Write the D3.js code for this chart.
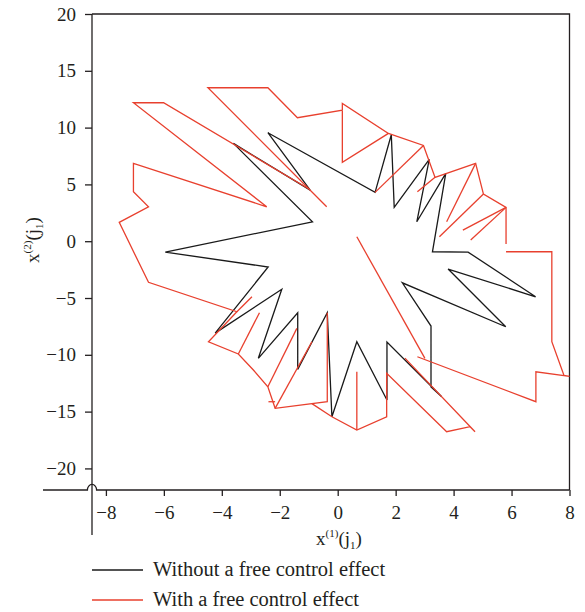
<!DOCTYPE html>
<html><head><meta charset="utf-8">
<script src="https://cdn.jsdelivr.net/npm/d3@7/dist/d3.min.js"></script>
<style>
body{margin:0;background:#fff}
text{font-family:"Liberation Serif","Times New Roman",serif;fill:#231f20}
</style>
</head><body>
<svg id="chart" width="585" height="612"></svg>
<script>
// ---------- data ----------
const xTicks = [-8, -6, -4, -2, 0, 2, 4, 6, 8];
const yTicks = [-20, -15, -10, -5, 0, 5, 10, 15, 20];
const seriesNames = ["Without a free control effect", "With a free control effect"];
const seriesColors = ["#1a1a1a", "#e8402e"];

// trajectory without a free control effect (closed)
const blackPath = [
  [-4.23,-8.09],[-1.93,-4.23],[-2.74,-10.31],[-1.38,-6.30],[-1.38,-11.28],
  [-0.36,-6.30],[-0.20,-15.45],[0.66,-8.85],[1.70,-13.98],[1.70,-8.88],
  [3.59,-13.69],[3.22,-12.84],[3.22,-7.47],[2.23,-3.66],[5.80,-7.53],
  [3.81,-2.45],[6.83,-4.89],[4.50,-0.96],[3.27,-0.93],[3.73,5.97],
  [2.73,1.71],[3.16,7.20],[1.95,2.98],[1.85,9.37],[1.29,4.30],
  [-2.41,9.55],[-0.95,4.50],[-3.60,8.61],[-0.87,1.71],[-5.95,-0.96],
  [-2.40,-2.27],[-4.23,-8.09]
];

// trajectory with a free control effect (pieces)
const redMain1 = [
  [-0.99,4.59],[-6.01,12.19],[-7.05,12.19],[-2.45,3.03],[-7.05,6.85],
  [-7.05,4.35],[-6.53,3.03],[-7.54,1.66],[-6.53,-3.62],[-3.48,-6.21],
  [-4.46,-8.85],[-3.43,-9.93],[-2.91,-11.34],[-2.41,-12.81],[-2.16,-14.71],
  [-0.36,-14.13],[-0.36,-6.30]
];
const redMain2 = [
  [-0.89,-14.30],[-0.20,-15.45],[0.66,-16.62],[1.69,-15.45],[1.69,-11.63],
  [3.76,-16.77],[4.57,-16.33],[4.74,-16.77],[2.32,-10.29]
];
const redMain3 = [
  [-0.38,3.03],[-4.48,13.51],[-2.41,13.51],[-1.39,10.87],[0.16,11.54],
  [0.16,12.13],[1.75,9.49],[0.16,6.94],[0.16,11.54]
];
const redMain4 = [
  [1.75,9.49],[2.96,8.43],[3.36,5.62],[4.76,6.85],[5.03,4.15],
  [5.81,2.98],[5.81,-0.25]
];
const redMain5 = [
  [5.81,-0.93],[7.39,-0.93],[7.39,-8.85],[7.81,-11.81],[8.00,-11.90],
  [6.84,-11.49],[6.84,-14.13],[2.75,-10.17]
];
const redSpikes = [
  [[-3.48,-6.21],[-2.96,-4.89]],
  [[-3.43,-9.93],[-2.70,-6.30]],
  [[-2.41,-12.81],[-1.41,-7.67]],
  [[-2.16,-14.71],[-0.89,-8.85]],
  [[-2.39,-14.13],[-2.16,-14.13]],
  [[0.66,-16.62],[0.66,-11.49]],
  [[0.66,0.39],[3.01,-10.31]],
  [[2.96,8.43],[1.29,4.30]],
  [[3.36,5.62],[2.75,4.35]],
  [[4.76,6.85],[3.76,1.71]],
  [[5.03,4.15],[3.51,0.39]],
  [[5.81,2.98],[4.32,0.98]],
  [[5.81,2.98],[4.59,0.10]]
];
const redPaths = [redMain1, redMain2, redMain3, redMain4, redMain5, ...redSpikes];

// ---------- drawing ----------
const svg = d3.select("#chart");
const x = d3.scaleLinear().domain([-8.48, 8]).range([92, 569.5]);
const y = d3.scaleLinear().domain([-21.9, 20]).range([490, 14]);
const line = d3.line().x(d => x(d[0])).y(d => y(d[1]));

// frame (top & right)
svg.append("path")
  .attr("d", `M${x(-8.48)},${y(20)}H${x(8)}V${y(-21.9)}`)
  .attr("fill","none").attr("stroke","#231f20").attr("stroke-width",1.3);

// series
svg.append("path").datum(blackPath).attr("d", line)
  .attr("fill","none").attr("stroke",seriesColors[0]).attr("stroke-width",1.3)
  .attr("stroke-linejoin","miter");
svg.append("g").selectAll("path").data(redPaths).join("path")
  .attr("d", line).attr("fill","none").attr("stroke",seriesColors[1])
  .attr("stroke-width",1.3);

// y axis
const yAxis = svg.append("g").attr("transform",`translate(${x(-8.48)},0)`)
  .call(d3.axisLeft(y).tickValues(yTicks).tickSize(7).tickPadding(9));
yAxis.select(".domain").remove();
yAxis.selectAll("line").attr("stroke","#231f20").attr("stroke-width",1.3);
yAxis.selectAll("text").attr("font-size",19).attr("font-family",null);
svg.append("line").attr("x1",x(-8.48)).attr("x2",x(-8.48))
  .attr("y1",y(20)).attr("y2",535)
  .attr("stroke","#231f20").attr("stroke-width",1.3);

// x axis
const xAxis = svg.append("g").attr("transform",`translate(0,${y(-21.9)})`)
  .call(d3.axisBottom(x).tickValues(xTicks).tickSize(6).tickPadding(10));
xAxis.select(".domain").remove();
xAxis.selectAll("line").attr("stroke","#231f20").attr("stroke-width",1.3);
xAxis.selectAll("text").attr("font-size",19).attr("font-family",null);
const x0 = x(-8.48), yb = y(-21.9);
svg.append("path")
  .attr("d", `M43,${yb}H${x0-4.6}A4.6,5.6 0 0 1 ${x0+4.6},${yb}H${x(8)}`)
  .attr("fill","none").attr("stroke","#231f20").attr("stroke-width",1.3);

// axis titles
const xt = svg.append("text").attr("x",339).attr("y",545)
  .attr("text-anchor","middle").attr("font-size",19);
xt.append("tspan").text("x");
xt.append("tspan").attr("font-size",11).attr("dy",-8).text("(1)");
xt.append("tspan").attr("dy",8).text("(j");
xt.append("tspan").attr("font-size",11).attr("dy",4).text("1");
xt.append("tspan").attr("dy",-4).text(")");

const yt = svg.append("text").attr("transform","translate(39,240) rotate(-90)")
  .attr("text-anchor","middle").attr("font-size",19);
yt.append("tspan").text("x");
yt.append("tspan").attr("font-size",11).attr("dy",-8).text("(2)");
yt.append("tspan").attr("dy",8).text("(j");
yt.append("tspan").attr("font-size",11).attr("dy",4).text("1");
yt.append("tspan").attr("dy",-4).text(")");

// legend
const leg = svg.append("g").selectAll("g").data(seriesNames).join("g")
  .attr("transform",(d,i)=>`translate(92,${570 + i*30})`);
leg.append("line").attr("x1",0).attr("x2",51).attr("y1",0).attr("y2",0)
  .attr("stroke",(d,i)=>seriesColors[i]).attr("stroke-width",1.3);
leg.append("text").attr("x",61).attr("y",5.5).attr("font-size",20.5).text(d=>d);
</script>
</body></html>
